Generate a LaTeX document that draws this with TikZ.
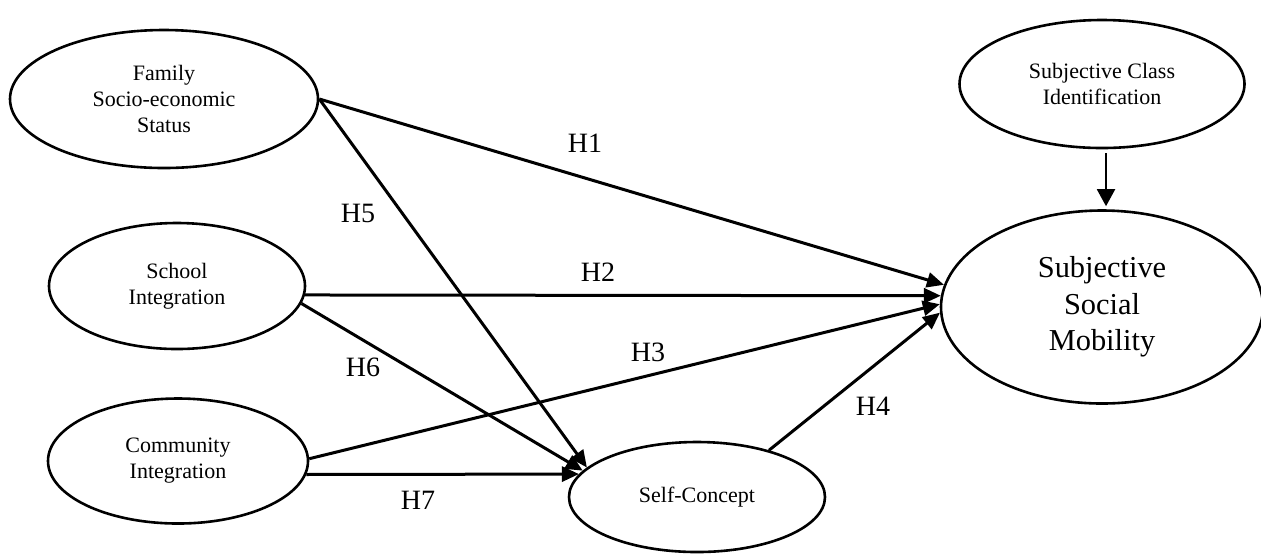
\documentclass[tikz,border=0pt]{standalone}
\usepackage{fontspec}
\setmainfont{Liberation Serif}
\usetikzlibrary{shapes.geometric,arrows.meta}
\begin{document}
\begin{tikzpicture}[x=0.5pt,y=-0.5pt,
  var/.style={draw,ellipse,line width=1.3pt,inner sep=0pt,align=center,
    font=\fontsize{11}{13}\selectfont},
  path/.style={line width=1.5pt,-{Triangle[length=8.5pt,width=7.5pt]}},
  hyp/.style={font=\fontsize{14}{16}\selectfont,inner sep=0pt}]
\useasboundingbox (0,0) rectangle (1261,554);
\node[var,minimum width=154pt,minimum height=69pt] (fam) at (164,99) {Family\\Socio-economic\\Status};
\node[var,minimum width=128pt,minimum height=63pt] (sch) at (177,286) {School\\Integration};
\node[var,minimum width=130pt,minimum height=62.5pt] (com) at (178,461) {Community\\Integration};
\node[var,minimum width=142.5pt,minimum height=64pt] (sci) at (1102,84) {Subjective Class\\Identification};
\node[var,minimum width=161pt,minimum height=96.5pt,font=\fontsize{15.2}{18.3}\selectfont] (ssm) at (1102,307) {Subjective\\Social\\Mobility};
\node[var,minimum width=128pt,minimum height=55pt] (sc) at (697,497) {Self-Concept};
\draw[path] (fam.east) -- (ssm.172);
\draw[path] (fam.east) -- (sc.165);
\draw[path] (sch.-4) -- (ssm.176);
\draw[path] (sch.-8) -- (sc.167);
\draw[path] (com.1) -- (ssm.179);
\draw[path] (com.-6) -- (sc.169);
\draw[path] (sc.33) -- (ssm.182);
\draw[line width=1pt,-{Triangle[length=8.5pt,width=9pt]},shorten <=2pt,shorten >=1.5pt] ([xshift=2pt]sci.south) -- ([xshift=2pt]ssm.north);
\node[hyp] (h1) at (585,143) {H1};
\node[hyp] (h2) at (598,272) {H2};
\node[hyp] (h3) at (648,352) {H3};
\node[hyp] (h4) at (873,406) {H4};
\node[hyp] (h5) at (358,213) {H5};
\node[hyp] (h6) at (363,367) {H6};
\node[hyp] (h7) at (418,500) {H7};
\end{tikzpicture}
\end{document}
